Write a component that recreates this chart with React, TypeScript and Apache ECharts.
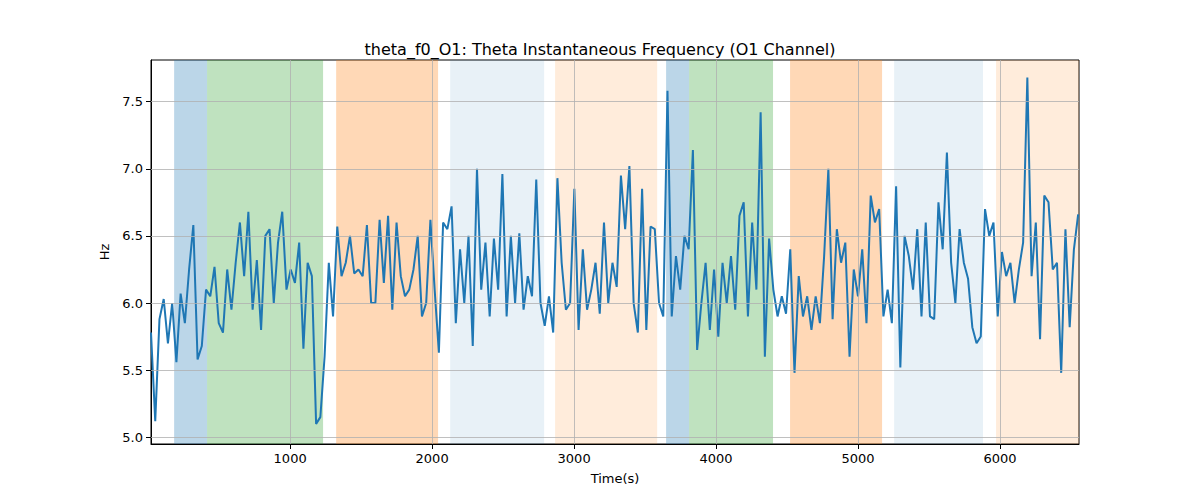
import React, { useEffect, useRef } from 'react';
import * as echarts from 'echarts';

const T0 = 20;
const T1 = 6550;
const freq = [
  5.78, 5.12, 5.88, 6.03, 5.7,
  6.0, 5.56, 6.07, 5.85, 6.25, 6.58, 5.58, 5.68,
  6.1, 6.05, 6.27, 5.85, 5.78, 6.25, 5.95, 6.3, 6.6, 6.2, 6.68, 5.95, 6.32, 5.8, 6.5, 6.55, 6.0, 6.45, 6.68, 6.1, 6.25, 6.15, 6.45, 5.66, 6.3, 6.2, 5.1, 5.15,
  5.6, 6.3, 5.9,
  6.57, 6.2, 6.3, 6.5, 6.22, 6.25, 6.2, 6.58, 6.0, 6.0, 6.62, 6.15, 6.65, 5.95, 6.6, 6.2, 6.05, 6.1, 6.25, 6.5, 5.9, 6.0, 6.62, 6.1,
  5.63, 6.6, 6.55,
  6.72, 5.85, 6.4, 6.0, 6.5, 5.68, 7.0, 6.1, 6.45, 5.9, 6.48, 6.1, 6.96, 5.9, 6.5, 6.0, 6.52, 5.95, 6.2, 6.05, 6.92, 6.0,
  5.83, 6.05, 5.78,
  6.93, 6.3, 5.95, 6.0, 6.85, 5.8, 6.4, 5.95, 6.1, 6.3, 5.92, 6.6, 6.0, 6.3, 6.12, 6.95, 6.55, 7.02, 6.0, 5.78, 6.85, 5.8, 6.57, 6.55,
  6.0, 5.9,
  7.58, 5.9, 6.35, 6.1, 6.5,
  6.4, 7.14, 5.65, 6.0, 6.3, 5.8, 6.25, 5.75, 6.3, 6.0, 6.35, 5.95, 6.65, 6.75, 5.9, 6.6, 6.1, 7.42, 5.6, 6.48,
  6.1, 5.9, 6.05, 5.92,
  6.4, 5.48, 6.2, 5.9, 6.05, 5.8, 6.05, 5.85, 6.35, 7.0, 5.88, 6.55, 6.3, 6.45, 5.6, 6.25, 6.05, 6.4, 5.85, 6.8, 6.6, 6.7,
  5.9, 6.1, 5.85,
  6.87, 5.52, 6.5, 6.35, 6.1, 6.55, 5.9, 6.6, 5.9, 5.88, 6.75, 6.4, 7.12, 6.3, 6.0, 6.55, 6.3, 6.18, 5.82, 5.7, 5.75,
  6.7, 6.5, 6.6,
  5.9, 6.38, 6.2, 6.3, 6.0, 6.25, 6.45, 7.68, 6.2, 6.6, 5.73, 6.8, 6.75, 6.25, 6.3, 5.48, 6.55, 5.82, 6.4, 6.66,
];

// [start, end, color, opacity]
const bands: [number, number, string, number][] = [
  [183, 415, '#1f77b4', 0.3],
  [415, 1232, '#2ca02c', 0.3],
  [1324, 2042, '#ff7f0e', 0.3],
  [2127, 2789, '#1f77b4', 0.1],
  [2866, 3585, '#ff7f0e', 0.15],
  [3648, 3810, '#1f77b4', 0.3],
  [3810, 4401, '#2ca02c', 0.3],
  [4521, 5169, '#ff7f0e', 0.3],
  [5254, 5880, '#1f77b4', 0.1],
  [5972, 6556, '#ff7f0e', 0.15],
];

const xTicks = [1000, 2000, 3000, 4000, 5000, 6000];
const yTicks = [5.0, 5.5, 6.0, 6.5, 7.0, 7.5];

const App: React.FC = () => {
  const ref = useRef<HTMLDivElement>(null);

  useEffect(() => {
    if (!ref.current) return;
    const chart = echarts.init(ref.current, undefined, { renderer: 'svg' });
    const step = (T1 - T0) / (freq.length - 1);
    const pts = freq.map((v, i) => [T0 + i * step, v]);
    const font = 'DejaVu Sans';
    const gridLine = { color: '#b0b0b0', width: 0.8, type: 'solid' as const };

    chart.setOption({
      animation: false,
      textStyle: { fontFamily: font },
      title: {
        text: 'theta_f0_O1: Theta Instantaneous Frequency (O1 Channel)',
        left: 'center',
        top: 36,
        textStyle: { fontSize: 16, fontWeight: 'normal', color: '#000', fontFamily: font },
      },
      grid: { left: 151, right: 121, top: 60, bottom: 56, show: true, borderColor: '#000', borderWidth: 1 },
      xAxis: {
        type: 'value',
        min: 20,
        max: 6556,
        name: 'Time(s)',
        nameLocation: 'middle',
        nameGap: 28,
        nameTextStyle: { fontSize: 13, color: '#000' },
        axisLine: { show: true, lineStyle: { color: '#000' } },
        axisTick: { show: true, customValues: xTicks, lineStyle: { color: '#000' } },
        axisLabel: { customValues: xTicks, color: '#000', fontSize: 13, formatter: (v: number) => String(v) },
        splitLine: { show: false },
      },
      yAxis: {
        type: 'value',
        min: 4.95,
        max: 7.81,
        name: 'Hz',
        nameLocation: 'middle',
        nameGap: 40,
        nameTextStyle: { fontSize: 13, color: '#000' },
        axisLine: { show: true, lineStyle: { color: '#000' } },
        axisTick: { show: true, customValues: yTicks, lineStyle: { color: '#000' } },
        axisLabel: { customValues: yTicks, color: '#000', fontSize: 13, formatter: (v: number) => v.toFixed(1) },
        splitLine: { show: false },
      },
      series: [
        {
          type: 'line',
          data: pts,
          showSymbol: false,
          lineStyle: { color: '#1f77b4', width: 2 },
          z: 3,
          markArea: {
            silent: true,
            data: bands.map(([a, b, c, o]) => [
              { xAxis: a, itemStyle: { color: c, opacity: o } },
              { xAxis: b },
            ]),
          },
        },
        {
          type: 'line',
          data: [],
          z: 2,
          markLine: {
            silent: true,
            symbol: 'none',
            label: { show: false },
            lineStyle: gridLine,
            data: [
              ...xTicks.map((x) => ({ xAxis: x })),
              ...yTicks.map((y) => ({ yAxis: y })),
            ],
          },
        },
      ],
    });

    return () => chart.dispose();
  }, []);

  return <div ref={ref} style={{ width: 1200, height: 500, margin: -8 }} />;
};

export default App;
